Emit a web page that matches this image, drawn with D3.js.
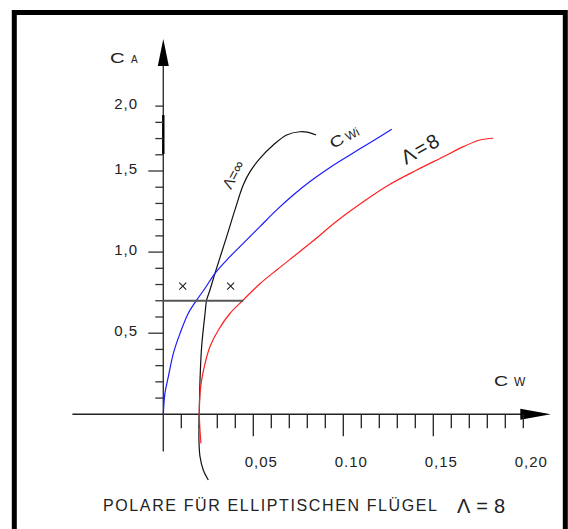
<!DOCTYPE html>
<html>
<head>
<meta charset="utf-8">
<script src="https://cdn.jsdelivr.net/npm/d3@7"></script>
<style>
  body { margin: 0; background: #fff; }
  text { font-family: "Liberation Sans", "DejaVu Sans", sans-serif; fill: #222; }
</style>
</head>
<body>
<script>
/* polar data: [cw, ca] */
var profilPolare = [[0.0250, -0.405], [0.0222, -0.343], [0.0204, -0.261], [0.0198, -0.158], [0.0200, 0],
    [0.0204, 0.211], [0.0213, 0.417], [0.0232, 0.623], [0.0241, 0.705], [0.0259, 0.766], [0.0287, 0.869],
    [0.0352, 1.095], [0.0398, 1.260], [0.0444, 1.414], [0.0482, 1.496], [0.0537, 1.578], [0.0611, 1.660],
    [0.0685, 1.722], [0.0759, 1.742], [0.0806, 1.738], [0.0849, 1.722]];
var induziert = [[0, 0], [0.0009, 0.129], [0.0028, 0.232], [0.0056, 0.376], [0.0093, 0.499], [0.0139, 0.623],
    [0.0186, 0.705], [0.0232, 0.777], [0.0287, 0.869], [0.0352, 0.951], [0.0444, 1.054], [0.0537, 1.157],
    [0.0630, 1.260], [0.0722, 1.352], [0.0815, 1.435], [0.0926, 1.522], [0.1037, 1.599], [0.1148, 1.674],
    [0.1269, 1.757]];
var gesamt = [[0.0209, -0.179], [0.0200, 0], [0.0204, 0.129], [0.0213, 0.211], [0.0232, 0.314], [0.0259, 0.417],
    [0.0306, 0.520], [0.0371, 0.623], [0.0444, 0.705], [0.0537, 0.805], [0.0630, 0.890], [0.0704, 0.955],
    [0.0833, 1.070], [0.0963, 1.190], [0.1111, 1.310], [0.1259, 1.418], [0.1408, 1.506], [0.1556, 1.588],
    [0.1667, 1.650], [0.1759, 1.691], [0.1833, 1.702]];

var xTicks = d3.range(1, 21).map(function(d) { return d / 100 });
var xMajor = [0.05, 0.10, 0.15];
var xLabelVals = [0.05, 0.10, 0.15, 0.20];
var xLabels = ["0,05", "0.10", "0,15", "0,20"];
var yTicks = d3.range(1, 20).map(function(d) { return d / 10 });
var yMajor = [0.5, 1.0, 1.5];
var yLabelVals = [0.5, 1.0, 1.5, 1.9];
var yLabels = ["0,5", "1,0", "1,5", "2,0"];
var caLinie = 0.7;
var kreuze = [[0.0108, 0.79], [0.0374, 0.79]];

var width = 568, height = 529;

var x = d3.scaleLinear().domain([0, 0.2]).range([163.3, 523.3]);
var y = d3.scaleLinear().domain([0, 2]).range([414.3, 89.9]);

var svg = d3.select("body").append("svg")
    .attr("width", width)
    .attr("height", height);

/* frame */
svg.append("rect")
    .attr("x", 14.3).attr("y", 12.5)
    .attr("width", 551).attr("height", 540)
    .attr("fill", "none").attr("stroke", "#000").attr("stroke-width", 5);

/* axes */
svg.append("line")
    .attr("x1", x(-0.0505)).attr("x2", x(0.2)).attr("y1", y(0)).attr("y2", y(0))
    .attr("stroke", "#222").attr("stroke-width", 1.4);
svg.append("line")
    .attr("x1", x(0)).attr("x2", x(0)).attr("y1", y(-0.23)).attr("y2", y(2.2))
    .attr("stroke", "#333").attr("stroke-width", 1.4);
svg.append("line")
    .attr("x1", x(0)).attr("x2", x(0)).attr("y1", y(1.605)).attr("y2", y(1.845))
    .attr("stroke", "#000").attr("stroke-width", 2.4);

// arrow heads
svg.append("path")
    .attr("d", "M" + (x(0.2) - 3) + "," + (y(0) - 5.5) + "L" + (x(0.2) + 27.5) + "," + y(0) + "L" + (x(0.2) - 3) + "," + (y(0) + 5.5) + "Z")
    .attr("fill", "#000");
svg.append("path")
    .attr("d", "M" + (x(0) - 5.5) + "," + 66 + "L" + x(0) + "," + 39 + "L" + (x(0) + 5.5) + "," + 66 + "Z")
    .attr("fill", "#000");

svg.selectAll(".xtick")
    .data(xTicks)
    .enter().append("line")
    .attr("class", "xtick")
    .attr("x1", function(d) { return x(d) }).attr("x2", function(d) { return x(d) })
    .attr("y1", y(0))
    .attr("y2", function(d) { return y(0) + (xMajor.indexOf(d) >= 0 ? 22 : 14) })
    .attr("stroke", "#222").attr("stroke-width", 1.3);

svg.selectAll(".ytick")
    .data(yTicks)
    .enter().append("line")
    .attr("class", "ytick")
    .attr("y1", function(d) { return y(d) }).attr("y2", function(d) { return y(d) })
    .attr("x1", x(0))
    .attr("x2", function(d) { return x(0) - (yMajor.indexOf(d) >= 0 ? 15 : 8) })
    .attr("stroke", "#333").attr("stroke-width", 1.3);

svg.selectAll(".xlab")
    .data(xLabelVals)
    .enter().append("text")
    .attr("class", "xlab")
    .attr("x", function(d) { return x(d) + 8 })
    .attr("y", 467)
    .attr("text-anchor", "middle")
    .attr("font-size", 15)
    .attr("letter-spacing", 1)
    .text(function(d, i) { return xLabels[i] });

svg.selectAll(".ylab")
    .data(yLabelVals)
    .enter().append("text")
    .attr("class", "ylab")
    .attr("x", 138)
    .attr("y", function(d) { return y(d) + 3 })
    .attr("text-anchor", "end")
    .attr("font-size", 15)
    .attr("letter-spacing", 1)
    .text(function(d, i) { return yLabels[i] });

/* curves */
var line = d3.line()
    .x(function(d) { return x(d[0]) })
    .y(function(d) { return y(d[1]) })
    .curve(d3.curveCatmullRom);

svg.append("path").datum(profilPolare).attr("d", line)
    .attr("fill", "none").attr("stroke", "#111").attr("stroke-width", 1.2);
svg.append("path").datum(induziert).attr("d", line)
    .attr("fill", "none").attr("stroke", "#1a1aff").attr("stroke-width", 1.2);
svg.append("path").datum(gesamt).attr("d", line)
    .attr("fill", "none").attr("stroke", "#ff2020").attr("stroke-width", 1.2);

svg.append("line")
    .attr("x1", x(0)).attr("x2", x(0.0444)).attr("y1", y(caLinie)).attr("y2", y(caLinie))
    .attr("stroke", "#555").attr("stroke-width", 2);

svg.selectAll(".kreuz")
    .data(kreuze)
    .enter().append("path")
    .attr("class", "kreuz")
    .attr("d", function(d) {
        var cx = x(d[0]), cy = y(d[1]);
        return "M" + (cx - 3.5) + "," + (cy - 3.5) + "L" + (cx + 3.5) + "," + (cy + 3.5) +
            "M" + (cx + 3.5) + "," + (cy - 3.5) + "L" + (cx - 3.5) + "," + (cy + 3.5);
    })
    .attr("stroke", "#222").attr("stroke-width", 1.1);

/* labels */
svg.append("text").attr("transform", "translate(110,63) scale(1.35,1)").attr("font-size", 15).text("C");
svg.append("text").attr("x", 131).attr("y", 63).attr("font-size", 10).text("A");

svg.append("text").attr("transform", "translate(494,386) scale(1.3,1)").attr("font-size", 15).text("C");
svg.append("text").attr("x", 514).attr("y", 386).attr("font-size", 12).text("W");

var cwi = svg.append("g").attr("transform", "translate(333,149) rotate(-28)");
cwi.append("text").attr("transform", "scale(1.3,1)").attr("font-size", 15).text("C");
cwi.append("text").attr("x", 17).attr("font-size", 12).text("Wi");

svg.append("text")
    .attr("transform", "translate(406,165) rotate(-30)")
    .attr("font-size", 20)
    .attr("letter-spacing", 2)
    .text("Λ=8");

svg.append("text")
    .attr("transform", "translate(231,190) rotate(-62)")
    .attr("font-size", 15)
    .text("Λ=∞");

svg.append("text")
    .attr("x", 103).attr("y", 511)
    .attr("font-size", 16)
    .attr("textLength", 334).attr("lengthAdjust", "spacing")
    .text("POLARE FÜR ELLIPTISCHEN FLÜGEL");
svg.append("text")
    .attr("x", 457).attr("y", 513)
    .attr("font-size", 20)
    .attr("textLength", 48).attr("lengthAdjust", "spacing")
    .text("Λ=8");
</script>
</body>
</html>
